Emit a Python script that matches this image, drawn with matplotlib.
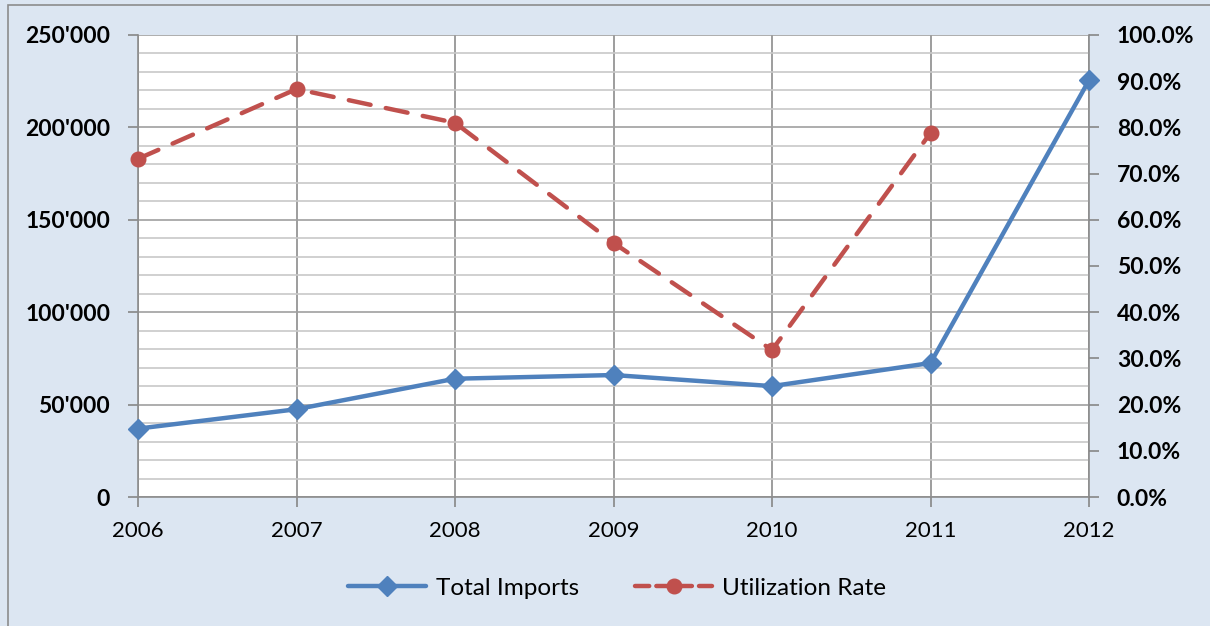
import matplotlib
matplotlib.use("Agg")
import matplotlib.pyplot as plt
from matplotlib.ticker import FuncFormatter, MultipleLocator
from matplotlib.lines import Line2D
from matplotlib.patches import Rectangle

years = [2006, 2007, 2008, 2009, 2010, 2011, 2012]
total_imports = [37000, 47500, 64000, 66000, 60000, 72500, 225500]
util_years = [2006, 2007, 2008, 2009, 2010, 2011]
utilization = [73.2, 88.3, 81.0, 55.0, 31.8, 78.8]

BLUE = "#4F81BD"
RED = "#C0504D"
BG = "#DCE6F2"
FONT = ["Lato", "DejaVu Sans"]
plt.rcParams["font.family"] = FONT

W, H = 1210, 626
fig = plt.figure(figsize=(W / 100, H / 100), dpi=100, facecolor=BG)
fig.patches.append(Rectangle((8 / W, -0.1), 1.2, (H - 5) / H + 0.1, transform=fig.transFigure,
                             fill=False, edgecolor="#8C8C8C", linewidth=1.2, zorder=0))

x0, x1, ytop, ybot = 138, 1089, 35, 497
ax = fig.add_axes([x0 / W, (H - ybot) / H, (x1 - x0) / W, (ybot - ytop) / H])
ax.set_facecolor("white")
ax.set_xlim(2006, 2012)
ax.set_ylim(0, 250000)
ax.yaxis.set_major_locator(MultipleLocator(50000))
ax.yaxis.set_minor_locator(MultipleLocator(10000))
ax.set_xticks(years)
ax.set_xticklabels([str(y) for y in years], fontsize=16)
ax.yaxis.set_major_formatter(FuncFormatter(lambda v, p: "0" if v == 0 else f"{int(v):,}".replace(",", "'")))
ax.tick_params(axis="y", which="major", labelsize=16.5, length=7, color="#868686", width=1.2, pad=13)
ax.tick_params(axis="y", which="minor", length=0)
ax.tick_params(axis="x", length=7, color="#868686", width=1.2, pad=10)
for lab in ax.get_yticklabels():
    lab.set_fontweight("bold")

ax.grid(True, which="minor", axis="y", color="#C8C8C8", linewidth=1.2)
ax.grid(True, which="major", axis="y", color="#A0A0A0", linewidth=1.2)
ax.grid(True, which="major", axis="x", color="#8C8C8C", linewidth=1.2)
ax.set_axisbelow(True)
for s in ["left", "bottom", "right"]:
    ax.spines[s].set_color("#8C8C8C")
    ax.spines[s].set_linewidth(1.2)
ax.spines["top"].set_visible(False)

ax2 = ax.twinx()
ax2.set_ylim(0, 100)
ax2.yaxis.set_major_locator(MultipleLocator(10))
ax2.yaxis.set_major_formatter(FuncFormatter(lambda v, p: f"{v:.1f}%"))
ax2.tick_params(axis="y", labelsize=16.5, length=7, color="#868686", width=1.2, pad=13)
for lab in ax2.get_yticklabels():
    lab.set_fontweight("bold")
for s in ["left", "bottom", "right", "top"]:
    ax2.spines[s].set_visible(False)

# secondary axis: utilization (%) ; imports drawn on primary scale via conversion 250000 -> 100
ax2.plot(util_years, utilization, color=RED, linewidth=3.2, dashes=(5, 3.5),
         marker="o", markersize=10.5, dash_capstyle="round", zorder=3, clip_on=False)
ax2.plot(years, [v * 100 / 250000 for v in total_imports], color=BLUE, linewidth=3.2,
         marker="D", markersize=10.5, zorder=4, clip_on=False, solid_capstyle="round")

handles = [
    Line2D([], [], color=BLUE, linewidth=3.2, marker="D", markersize=10.5, solid_capstyle="round"),
    Line2D([], [], color=RED, linewidth=3.2, dashes=(3.2, 1.6), marker="o", markersize=10.5, dash_capstyle="round"),
]
fig.legend(handles, ["Total Imports", "Utilization Rate"], loc="center", bbox_to_anchor=(0.51, (H - 588) / H),
           ncol=2, frameon=False, fontsize=17.5, handlelength=3.2, columnspacing=2.3, handletextpad=0.4)

fig.savefig("out.png", dpi=100, facecolor=BG)
